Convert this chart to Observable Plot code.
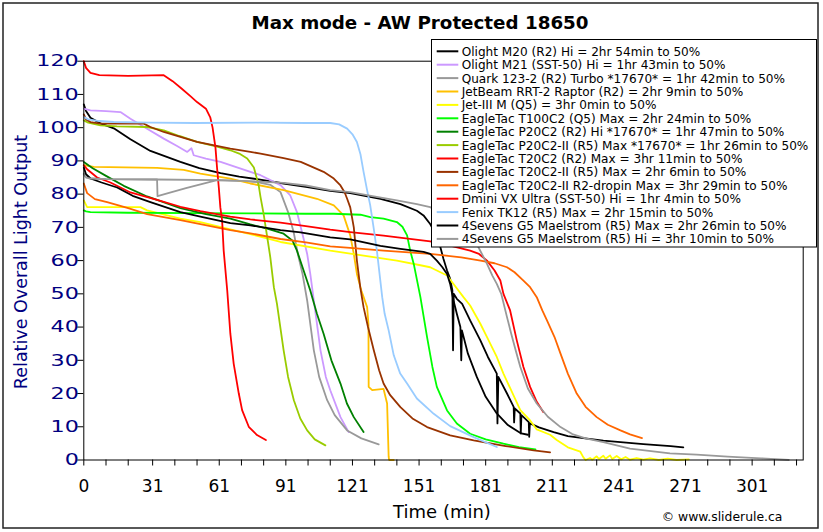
<!DOCTYPE html>
<html>
<head>
<meta charset="utf-8">
<script src="https://cdn.jsdelivr.net/npm/d3@7"></script>
<script src="https://cdn.jsdelivr.net/npm/@observablehq/plot@0.6"></script>
<style>
  html, body { margin: 0; padding: 0; background: white; }
  #chart { position: relative; width: 823px; height: 532px; }
</style>
</head>
<body>
<div id="chart"></div>
<script>
// ---- Data (time in minutes, relative output) ----
const seriesNames = [
  "Olight M20 (R2) Hi = 2hr 54min to 50%",
  "Olight M21 (SST-50) Hi = 1hr 43min to 50%",
  "Quark 123-2 (R2) Turbo *17670* = 1hr 42min to 50%",
  "JetBeam RRT-2 Raptor (R2) = 2hr 9min to 50%",
  "Jet-III M (Q5) = 3hr 0min to 50%",
  "EagleTac T100C2 (Q5) Max = 2hr 24min to 50%",
  "EagleTac P20C2 (R2) Hi *17670* = 1hr 47min to 50%",
  "EagleTac P20C2-II (R5) Max *17670* = 1hr 26min to 50%",
  "EagleTac T20C2 (R2) Max = 3hr 11min to 50%",
  "EagleTac T20C2-II (R5) Max = 2hr 6min to 50%",
  "EagleTac T20C2-II R2-dropin Max = 3hr 29min to 50%",
  "Dmini VX Ultra (SST-50) Hi = 1hr 4min to 50%",
  "Fenix TK12 (R5) Max = 2hr 15min to 50%",
  "4Sevens G5 Maelstrom (R5) Max = 2hr 26min to 50%",
  "4Sevens G5 Maelstrom (R5) Hi = 3hr 10min to 50%"
];
const seriesColors = ["#000000","#CC99FF","#999999","#FFC000","#FFFF00","#00FF00","#008000","#99CC00",
  "#FF0000","#993300","#FF6600","#FF0000","#99CCFF","#000000","#999999"];

const olightM20 = [[0,107],[1,105],[3,103],[7.5,101.3],[13.5,99.8],[21,96.5],[30,93],[43.5,89.7],[52,87.8],[61.6,86.3],[70,85.3],[78,84.5],[90,83.2],[100,82.2],[111,81],[120,80.3],[133.6,78.6],[142.6,77],[150,75],[153,73.6],[156,71],[158.5,68],[160.6,64],[162,60.5],[163.6,57],[165,54.5],[166,51],[166.3,33],[166.6,50],[168,48.5],[170.4,47],[174,42],[178.6,36],[182,31],[186,26],[186.3,11],[186.7,25],[190.6,20],[193.6,16],[193.8,11.3],[194.1,15.5],[196.6,14],[196.8,8],[197.1,13.5],[200.4,11.4],[200.6,7],[200.9,11],[205,9.8],[211.6,8.4],[218,7.2],[226.7,6.4],[234,5.8],[241.7,5.4],[252,4.8],[264.3,4.2],[270,3.8]];
const olightM21 = [[0,105.7],[3,105.2],[10,105],[16.5,104.7],[21,102.7],[28.5,99.7],[36,96.7],[42,94.5],[46.6,92.7],[48.5,93.8],[49.5,91.7],[55,90.7],[61.6,89.7],[70,87.8],[79.6,85.7],[88.6,82.7],[93,79.6],[96,74.6],[99,66.6],[100.6,62],[102,56],[103.6,48],[106.6,33],[109,25],[111,21],[115.6,12.9],[119.3,8.4]];
const quark123 = [[0,86.2],[3,84.7],[10,84.5],[33,84.4],[60,84.2],[70,84],[78,83.6],[84,82.8],[88.6,80.6],[92,74.6],[94.5,68.6],[96.4,62],[98.5,56],[100.6,48],[103.6,33],[106,25],[109.6,18],[113,13.5],[118.6,8.9],[125,6.5],[132.8,4.7]];
const jetbeamRRT2 = [[0,88.7],[4.5,88.2],[33,87.9],[45,87.3],[52.5,86.2],[66,84.7],[75,83.2],[90,81.2],[105,78.6],[112.6,76.6],[117,73.6],[120,67.6],[121.6,62],[123,56],[125,51],[127.6,46],[128.2,41],[128.3,22],[129.9,21],[135,21.4],[135.5,20],[136.6,17],[137.3,1],[137.5,0],[139.6,0]];
const jet3M = [[0,78.1],[1.5,76.1],[13.5,76.1],[25.5,76.1],[28.5,75.1],[43.5,72.6],[52.5,71.6],[66,69.4],[75,68],[88.6,65.6],[111,63],[141,60],[151.6,58.6],[156,58],[163.6,55.5],[171,49],[174,46.5],[178.6,41],[181.6,37],[186,31],[189,26],[196.6,15],[201,11.9],[204,9.2],[210,7.6],[213,6],[218,3.8],[223.6,2.5],[225,0.8],[226,0],[228,0.6],[229,0.1],[231,1.1],[232,0.3],[234,1.3],[235,0.4],[237,1.4],[238,0.3],[240,1.2],[242,0.2],[244,0.9],[246,0.1],[249,0.6],[252,0.1],[255,0.5],[259,0],[263,0.4],[267,0],[272.5,0.2]];
const eagleT100C2 = [[0,75.1],[1,74.8],[3,74.6],[20,74.4],[50,74.3],[75,74.2],[100,74.1],[112.6,74.1],[124.6,73.8],[129,73.1],[135,72.6],[141,71.6],[143.5,70.2],[145.6,67.6],[147,63],[148.6,59],[151.6,49],[154.6,37],[157,28],[159,22],[163.6,14.9],[168,11],[174,7.9],[181,6.2],[189,4.9],[196,3.9],[203.4,3.2]];
const eagleP20C2 = [[0,89.7],[4,87.8],[10,85.5],[18,82.5],[28.5,79.3],[43.5,75.8],[55,74],[66,72.6],[75,70.9],[82.6,69.6],[90,68.1],[94,66],[96,63],[99,57],[102,51],[105,44],[108,38],[111.5,30],[115.6,23],[118.5,17],[121.6,12.9],[126,8.4]];
const eagleP20C2II = [[0,102.2],[2,101.5],[7.5,100.7],[15,100.4],[28.5,100.2],[36,99.2],[43,97.5],[51,95.7],[60,94.3],[66,93.2],[70,92.2],[73.6,90.7],[76.6,88],[78.8,82.5],[79.6,79.1],[81,74],[82.6,67.1],[84,61],[85.6,52],[87,47],[90,33],[92,25],[94.6,18],[97.5,12.5],[100.6,8.9],[104,6.2],[108.8,4.4]];
const eagleT20C2 = [[0,88.7],[1.5,87.5],[6,85],[12,83.5],[21,80.5],[33,78.3],[43.5,76.2],[52.5,74.9],[66,73.2],[75,72.4],[88.6,71.4],[100,70.4],[111,69.3],[120,68.6],[135,67.5],[156,65.8],[165,64.5],[174,63],[178,62],[181.6,60],[185,57],[187.6,54],[189,50],[192,45],[195,36],[198,28],[201,22],[204,17.5],[207,14.4]];
const eagleT20C2IIR5 = [[0,104],[1,102.5],[3,101.7],[7.5,101.2],[27,101.2],[30,100.2],[36,98.7],[51,95.7],[66,93.7],[75,92.7],[79.6,92.2],[90,90.8],[97.7,89.7],[108,86.7],[112.6,84.7],[115.6,82.6],[117.5,80.5],[118.6,78.6],[120,76],[121.6,70],[123,60],[124.5,52],[126,46],[128,40],[130.6,33],[133,27],[135,23],[138,19.5],[142.6,15.9],[148,12.5],[154.6,9.9],[165,7.4],[175.6,5.9],[190,4.2],[202.6,2.9],[210,2.3]];
const eagleT20C2IIR2 = [[0,83.2],[1.5,80.3],[5,78.5],[10.5,77.6],[20,75.8],[28.5,74],[43.5,72.2],[52.5,71],[66,69.2],[75,68.2],[88.6,66.5],[100,65.5],[111,64.3],[120,63.8],[135,63],[156,62],[170,61],[178.7,60],[185,59.2],[190.6,58],[194,56.5],[198,54],[201,52],[204,49],[206.5,45],[208.6,42],[212,37],[214.7,32],[218,26],[222,20],[226,16],[231,12.9],[236,10.6],[241.7,8.9],[246,7.7],[251.4,6.6]];
const dminiVX = [[0,120],[1,118],[3,116.5],[7,115.8],[20,115.6],[36,115.8],[40,114],[44,111.8],[48,109.5],[51,107.7],[55,105.7],[57,103],[58,100],[59.3,94],[60,88],[60.8,82],[61.5,76],[62.3,72],[63,63],[64.6,51],[66,38],[67.5,29],[69.8,20],[71.3,15],[74.3,10],[78,7.5],[82,6]];
const fenixTK12 = [[0,103.2],[2,102.5],[7,102],[13.5,101.7],[30,101.5],[50,101.4],[79.6,101.5],[100,101.4],[111,101.4],[115,101],[118.6,99.7],[121,98],[123,95.7],[124.6,92],[126,86.7],[127.5,81.5],[129,76.6],[130.5,70],[132,63],[133.2,56],[134.4,49],[135.5,44],[137.3,39],[139.6,31.5],[142.5,26],[145.6,23],[150,18.5],[157.6,13.9],[165,10.2],[175.6,6.9],[186,3.9]];
const g5Max = [[0,88],[1,86],[3,84.7],[8,83.5],[15,82],[22,79.5],[30,77.6],[43.5,74.6],[52.5,73.2],[66,71.3],[75,70.6],[88.6,69.2],[97.6,68.5],[111,67],[120,66.4],[133.6,64.4],[142.6,63.5],[153,62.6],[156,62],[159,60],[161.5,58],[163.6,56],[165,53],[166.5,48],[168,44],[169.6,40],[170,30],[170.3,39],[173,32],[177,25],[181,19],[186,14],[191,10.5],[197,8],[200,7.6]];
const g5Hi = [[0,86],[1,85],[3,84.7],[10,84.5],[33,84.4],[33.2,79.4],[46,81.8],[60,84.2],[75,83.9],[90,83.4],[100,82.6],[111,81.2],[120,80.6],[130,79.4],[141,78.1],[150,77],[156,76.1],[165,73],[172,69],[177,65],[181.6,59],[184,55.5],[186,53],[188,50],[190.6,43],[192.5,38],[194.5,33],[196.6,28],[200,21.5],[204,17],[209,13],[214.7,9.9],[220,7.8],[226,6.5],[234,5.4],[246,3.4],[264,2],[276,1.6],[290,1],[305,0.5],[317.5,0]];

const seriesData = [olightM20, olightM21, quark123, jetbeamRRT2, jet3M, eagleT100C2, eagleP20C2, eagleP20C2II,
  eagleT20C2, eagleT20C2IIR5, eagleT20C2IIR2, dminiVX, fenixTK12, g5Max, g5Hi];

const xMajorTicks = [0,31,61,91,121,151,181,211,241,271,301];
const xMinorOffsets = [10,20];
const yTicks = [0,10,20,30,40,50,60,70,80,90,100,110,120];

// ---- Chart ----
const xAllTicks = xMajorTicks.flatMap(t => [t, ...xMinorOffsets.map(o => t + o)]);
const majorSet = new Set(xMajorTicks);

const lineMarks = seriesData.map((data, i) =>
  Plot.line(data, {x: d => d[0], y: d => d[1], stroke: seriesColors[i], strokeWidth: 1.8, strokeLinejoin: "round"})
);

const svg = Plot.plot({
  width: 823,
  height: 532,
  marginLeft: 83.3,
  marginRight: 20.3,
  marginTop: 60.7,
  marginBottom: 72.5,
  style: {fontFamily: "DejaVu Sans", fontSize: "17px", background: "white", color: "black", overflow: "visible"},
  x: {domain: [0, 324]},
  y: {domain: [0, 120]},
  marks: [
    ...lineMarks,
    Plot.frame({stroke: "black", strokeWidth: 1}),
    Plot.axisY({ticks: yTicks, tickSize: 6, tickPadding: 0, label: null, fill: "#000080", stroke: "black", fontSize: 16.5}),
    Plot.axisX({ticks: xAllTicks, tickFormat: d => majorSet.has(d) ? String(d) : "", tickSize: 6, tickPadding: 14, label: null})
  ]
});

const s = d3.select(svg);
s.selectAll('[aria-label="y-axis tick label"]').attr("fill", "#000080");
// widen y tick labels horizontally (reference glyphs are stretched), keeping the right edge fixed
s.selectAll('[aria-label="y-axis tick label"] text').each(function() {
  const t = d3.select(this);
  const tr = t.attr("transform") || "";
  const dx = parseFloat(t.attr("dx") || "0");
  t.attr("fill", "#000080");
  t.attr("dx", null);
  t.attr("transform", tr + ` translate(${dx + 1},0) scale(1.35,1)`);
});

// outer border
s.append("rect").attr("x", 3).attr("y", 3).attr("width", 815).attr("height", 525)
  .attr("fill", "none").attr("stroke", "#222").attr("stroke-width", 1.5);

// title
s.append("text").attr("x", 420).attr("y", 29).attr("text-anchor", "middle")
  .attr("font-weight", "bold").attr("font-size", "18.3px").attr("fill", "black")
  .text("Max mode - AW Protected 18650");

// y label
s.append("text").attr("transform", "translate(26.5,262) rotate(-90)").attr("text-anchor", "middle")
  .attr("font-size", "17.5px").attr("fill", "#000080")
  .text("Relative Overall Light Output");

// x label
s.append("text").attr("x", 442).attr("y", 518).attr("text-anchor", "middle")
  .attr("font-size", "18px").attr("fill", "black").text("Time (min)");

// copyright
s.append("text").attr("x", 661.7).attr("y", 520.5).attr("text-anchor", "start")
  .attr("font-size", "12.4px").attr("fill", "black")
  .text("\u00A9 www.sliderule.ca");

// legend
const lg = s.append("g");
lg.append("rect").attr("x", 431.5).attr("y", 39.5).attr("width", 385).attr("height", 207.5)
  .attr("fill", "white").attr("stroke", "black").attr("stroke-width", 1);
seriesNames.forEach((name, i) => {
  const cy = 51.3 + 13.4 * i;
  lg.append("line").attr("x1", 436.7).attr("x2", 458.3).attr("y1", cy).attr("y2", cy)
    .attr("stroke", seriesColors[i]).attr("stroke-width", 2);
  lg.append("text").attr("x", 461.7).attr("y", cy + 4.4).attr("text-anchor", "start")
    .attr("font-size", "12.1px").attr("fill", "black").text(name);
});

document.getElementById("chart").appendChild(svg);
</script>
</body>
</html>
